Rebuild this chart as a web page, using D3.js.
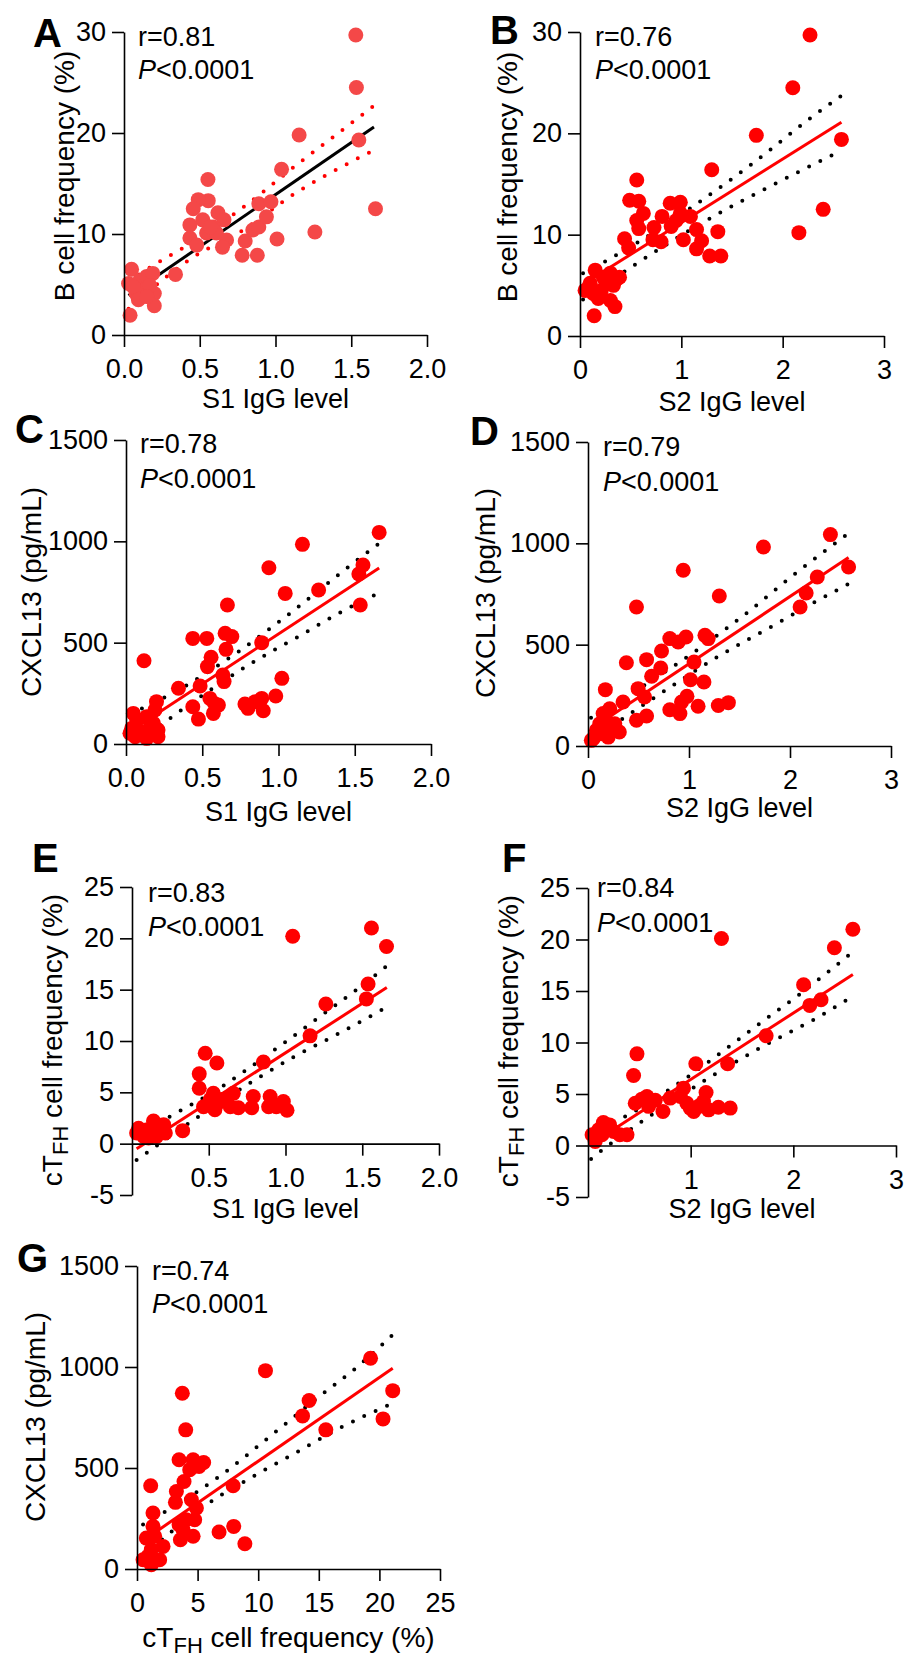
<!DOCTYPE html>
<html>
<head>
<meta charset="utf-8">
<script src="https://cdn.jsdelivr.net/npm/d3@7"></script>
<style>
  body { margin: 0; background: #fff; }
  text { font-family: "Liberation Sans", Arial, sans-serif; }
</style>
</head>
<body>
<svg id="fig" width="906" height="1657"></svg>
<script>
// ---- data ----
// each point is [x, y]
const ptsA = [[1.53,29.7],[1.534,24.5],[1.156,19.8],[1.55,19.3],[1.04,16.4],[1.66,12.5],[1.26,10.2],[1.01,9.5],
  [0.554,15.4],[0.556,13.3],[0.49,13.4],[0.457,12.5],[0.62,12.1],[0.66,11.4],[0.52,11.4],[0.59,10.7],[0.435,10.9],
  [0.545,10.1],[0.435,9.6],[0.48,8.9],[0.677,9.4],[0.65,8.7],[0.61,10.1],[0.57,10.7],
  [0.80,9.3],[0.78,7.9],[0.88,7.9],[0.85,10.4],[0.89,10.7],[0.94,11.7],[0.89,13.0],[0.97,13.2],[0.34,6.0],
  [0.05,6.5],[0.04,1.95],[0.03,5.1],[0.105,5.4],[0.15,5.8],[0.19,6.1],[0.08,4.1],[0.13,4.4],[0.2,4.1],[0.2,2.9],
  [0.06,4.8],[0.17,4.9],[0.095,3.5],[0.15,3.8]];
const ptsB = [[2.27,29.7],[2.10,24.5],[1.74,19.8],[2.58,19.4],[1.30,16.4],[2.40,12.5],[2.16,10.2],[1.36,10.3],[1.28,7.9],[1.39,7.9],
  [0.56,15.4],[0.49,13.4],[0.58,13.3],[0.625,12.1],[0.56,11.4],[0.58,10.6],[0.44,9.6],[0.48,8.7],
  [0.73,10.7],[0.72,9.5],[0.80,9.3],[0.81,11.8],[0.89,13.1],[0.99,13.2],[0.90,10.8],[0.99,12.1],[0.95,11.4],
  [1.02,9.5],[1.09,11.8],[1.15,10.5],[1.20,9.4],[1.15,8.6],
  [0.05,4.5],[0.15,6.5],[0.14,2.0],[0.23,5.8],[0.30,6.2],[0.36,5.6],[0.33,5.0],[0.21,4.5],[0.13,4.2],[0.18,3.7],
  [0.30,3.5],[0.345,2.9],[0.1,5.2],[0.26,5.2],[0.39,5.8]];
const ptsC = [[1.66,1044],[1.157,985],[0.937,870],[1.554,883],[1.527,839],[1.044,743],[1.263,760],[1.536,686],[0.665,686],
  [0.438,521],[0.53,521],[0.65,546],[0.694,530],[0.656,467],[0.89,500],[0.558,428],[0.534,382],[0.118,411],
  [0.344,275],[0.486,286],[0.635,340],[0.643,308],[1.022,324],[0.982,237],[0.89,225],[0.847,209],[0.78,197],
  [0.80,176],[0.90,164],[0.438,184],[0.475,123],[0.55,225],[0.58,200],[0.606,192],[0.573,151],
  [0.2,209],[0.19,168],[0.048,151],[0.07,118],[0.136,135],[0.037,77],[0.09,61],[0.16,86],[0.21,69],[0.21,36],
  [0.06,36],[0.136,28],[0.18,102],[0.026,53]];
const ptsD = [[2.40,1043],[1.737,982],[0.943,867],[2.58,883],[2.27,834],[1.30,740],[2.16,755],[2.10,686],[0.48,686],
  [0.81,530],[0.893,513],[0.97,538],[0.728,469],[1.158,546],[1.19,530],[0.38,411],[0.58,426],[0.72,385],[0.63,344],
  [1.05,414],[1.015,327],[1.148,316],[0.172,278],[0.496,283],[0.56,242],[0.347,217],[0.81,179],[0.91,160],
  [0.926,217],[0.98,245],[1.09,196],[1.29,200],[1.39,214],[0.58,148],[0.48,127],
  [0.15,160],[0.215,184],[0.18,127],[0.116,110],[0.265,110],[0.31,69],[0.05,36],[0.033,28],[0.13,61],[0.23,77],
  [0.2,44],[0.083,77]];
const ptsE = [[1.56,21.0],[1.047,20.2],[1.658,19.2],[1.538,15.55],[1.527,14.1],[1.263,13.6],[1.16,10.5],[0.856,7.95],
  [0.477,8.8],[0.553,7.86],[0.438,6.8],[0.438,5.4],
  [0.466,3.6],[0.51,4.3],[0.54,3.3],[0.585,4.3],[0.64,3.6],[0.66,4.9],[0.693,3.5],[0.62,4.45],[0.79,4.6],[0.78,3.5],
  [0.90,4.6],[0.89,3.6],[0.986,4.1],[0.94,3.6],[1.01,3.25],[0.53,4.9],[0.563,4.0],[0.33,1.27],
  [0.03,1.04],[0.076,0.71],[0.14,2.2],[0.206,1.85],[0.18,1.2],[0.108,0.55],[0.043,1.5],[0.16,0.7],[0.217,1.04],[0.1,1.36]];
const ptsF = [[2.58,21.0],[1.30,20.1],[2.40,19.2],[2.10,15.6],[2.16,13.6],[2.27,14.15],[1.735,10.65],[1.05,7.93],[1.36,7.93],
  [0.477,8.9],[0.444,6.8],
  [0.46,4.1],[0.525,4.5],[0.59,3.8],[0.574,4.76],[0.655,4.4],[0.73,3.3],[0.80,4.6],[0.90,4.76],[0.93,5.57],[0.963,4.1],
  [1.03,3.3],[1.077,3.8],[1.15,5.15],[1.125,4.27],[1.174,3.46],[1.27,3.72],[1.385,3.63],[0.996,3.63],
  [0.04,1.04],[0.07,0.39],[0.15,2.23],[0.21,2.0],[0.25,1.36],[0.38,1.04],[0.31,1.04],[0.136,1.04],[0.185,1.68],[0.104,1.52]];
const ptsG = [[19.27,1043],[10.6,982],[3.74,870],[21.1,883],[14.2,834],[13.66,758],[20.3,743],[15.58,689],[4.02,689],
  [3.47,541],[4.63,541],[5.5,527],[5.12,508],[4.35,491],[3.88,433],[3.25,384],[3.17,330],[7.93,412],[1.13,412],[1.32,277],
  [4.49,343],[4.9,302],[4.07,244],[3.47,219],[4.76,244],[3.58,145],[4.63,162],[7.98,211],[6.77,183],[8.9,125],
  [0.77,153],[1.32,211],[2.15,112],[1.18,96],[1.87,46],[0.5,46],[1.18,21],[0.9,63],[1.46,162],[3.8,194]];

// regression lines (end points) and 95% bands
const fitA = [[0.03,3.9],[1.65,20.6]];
const upA = [[0.03,5.3],[0.215,7.1],[0.387,8.6],[0.81,12.9],[1.127,16.7],[1.45,20.4],[1.65,22.7]];
const loA = [[0.03,2.6],[0.446,7.6],[0.787,10.4],[1.127,14.0],[1.48,17.0],[1.65,18.3]];
const fitB = [[0.03,5.1],[2.58,21.1]];
const upB = [[0.03,6.2],[0.31,7.7],[1.086,12.6],[1.70,17.0],[2.30,21.7],[2.58,23.7]];
const loB = [[0.03,3.6],[0.536,7.0],[1.316,11.8],[1.98,15.3],[2.58,18.3]];
const fitC = [[0.03,64],[1.66,869]];
const upC = [[0.03,150],[0.304,250],[0.73,452],[1.06,636],[1.46,875],[1.66,990]];
const loC = [[0.03,-20],[0.304,135],[0.81,393],[1.16,543],[1.427,658],[1.66,745]];
const fitD = [[0.03,84],[2.58,930]];
const upD = [[0.03,140],[0.437,262],[1.075,472],[1.555,650],[2.03,842],[2.58,1050]];
const loD = [[0.03,30],[0.777,278],[1.29,442],[1.82,590],[2.216,702],[2.58,800]];
const fitE = [[0.03,-0.49],[1.66,15.2]];
const upE = [[0.03,0.9],[0.29,3.0],[0.57,5.4],[0.737,7.1],[0.99,9.8],[1.235,12.5],[1.48,15.2],[1.66,17.3]];
const loE = [[0.03,-1.6],[0.126,-0.58],[0.38,2.1],[0.80,6.2],[1.06,8.5],[1.33,10.6],[1.66,13.3]];
const fitF = [[0.03,0.15],[2.58,16.6]];
const upF = [[0.03,1.3],[0.30,2.5],[0.817,5.6],[1.32,9.2],[1.68,11.9],[2.05,14.6],[2.58,18.8]];
const loF = [[0.03,-1.3],[0.162,-0.26],[0.535,2.4],[1.168,6.5],[1.69,9.55],[2.23,12.4],[2.58,14.5]];
const fitG = [[0.5,140],[21.1,994]];
const upG = [[0.5,220],[2.84,302],[6.97,466],[10.96,656],[14.95,850],[18.1,997],[21.1,1160]];
const loG = [[0.5,65],[5.73,318],[10.08,475],[13.44,587],[16.7,697],[21.1,820]];

// ticks and labels
const xTicksS1 = [0, 0.5, 1, 1.5, 2];
const xTicksS2 = [0, 1, 2, 3];
const xTicksS1E = [0.5, 1, 1.5, 2];
const xTicksS2F = [1, 2, 3];
const xTicksTfh = [0, 5, 10, 15, 20, 25];
const yTicksBcell = [0, 10, 20, 30];
const yTicksCxcl = [0, 500, 1000, 1500];
const yTicksTfh = [-5, 0, 5, 10, 15, 20, 25];
const letters = ["A", "B", "C", "D", "E", "F", "G"];
const rValues = ["0.81", "0.76", "0.78", "0.79", "0.83", "0.84", "0.74"];
const pValue = "<0.0001";
const titleS1 = [["S1 IgG level", 0]];
const titleS2 = [["S2 IgG level", 0]];
const titleBcell = [["B cell frequency (%)", 0]];
const titleCxcl = [["CXCL13 (pg/mL)", 0]];
const titleTfh = [["cT", 0], ["FH", 1], [" cell frequency (%)", 0]];

// ---- layout ----
const RED = "#ff0000", PINK = "#f44848", BLACK = "#000";
const f1 = d => d.toFixed(1), fi = d => String(d);

const panels = [
  { pts: ptsA, fit: fitA, up: upA, lo: loA, xDom: [0, 2], yDom: [0, 30], xTicks: xTicksS1, yTicks: yTicksBcell, xFmt: f1,
    left: 124, right: 427, top: 32, bottom: 335, ptCol: PINK, fitCol: BLACK, bandCol: RED,
    letter: [33, 47], stat: [138, 46, 79], xt: titleS1, xtY: 408, yt: titleBcell, ytX: 74, ytY: 176 },
  { pts: ptsB, fit: fitB, up: upB, lo: loB, xDom: [0, 3], yDom: [0, 30], xTicks: xTicksS2, yTicks: yTicksBcell, xFmt: fi,
    left: 580, right: 884, top: 32, bottom: 336, ptCol: RED, fitCol: RED, bandCol: BLACK,
    letter: [490, 44], stat: [595, 46, 79], xt: titleS2, xtY: 411, yt: titleBcell, ytX: 517, ytY: 177 },
  { pts: ptsC, fit: fitC, up: upC, lo: loC, xDom: [0, 2], yDom: [0, 1500], xTicks: xTicksS1, yTicks: yTicksCxcl, xFmt: f1,
    left: 126, right: 431, top: 440, bottom: 744, ptCol: RED, fitCol: RED, bandCol: BLACK,
    letter: [15, 443], stat: [140, 453, 488], xt: titleS1, xtY: 821, yt: titleCxcl, ytX: 41, ytY: 592 },
  { pts: ptsD, fit: fitD, up: upD, lo: loD, xDom: [0, 3], yDom: [0, 1500], xTicks: xTicksS2, yTicks: yTicksCxcl, xFmt: fi,
    left: 588, right: 891, top: 442, bottom: 746, ptCol: RED, fitCol: RED, bandCol: BLACK,
    letter: [470, 445], stat: [603, 456, 491], xt: titleS2, xtY: 817, yt: titleCxcl, ytX: 495, ytY: 593 },
  { pts: ptsE, fit: fitE, up: upE, lo: loE, xDom: [0, 2], yDom: [-5, 25], xTicks: xTicksS1E, yTicks: yTicksTfh, xFmt: f1,
    left: 132, right: 439, top: 887, bottom: 1195, ptCol: RED, fitCol: RED, bandCol: BLACK,
    letter: [32, 872], stat: [148, 902, 936], xt: titleS1, xtY: 1218, yt: titleTfh, ytX: 62, ytY: 1040 },
  { pts: ptsF, fit: fitF, up: upF, lo: loF, xDom: [0, 3], yDom: [-5, 25], xTicks: xTicksS2F, yTicks: yTicksTfh, xFmt: fi,
    left: 588, right: 896, top: 888, bottom: 1197, ptCol: RED, fitCol: RED, bandCol: BLACK,
    letter: [502, 872], stat: [597, 897, 932], xt: titleS2, xtY: 1218, yt: titleTfh, ytX: 518, ytY: 1041 },
  { pts: ptsG, fit: fitG, up: upG, lo: loG, xDom: [0, 25], yDom: [0, 1500], xTicks: xTicksTfh, yTicks: yTicksCxcl, xFmt: fi,
    left: 137, right: 440, top: 1266, bottom: 1569, ptCol: RED, fitCol: RED, bandCol: BLACK,
    letter: [17, 1272], stat: [152, 1280, 1313], xt: titleTfh, xtY: 1647, yt: titleCxcl, ytX: 45, ytY: 1417 }
];

const svg = d3.select("#fig");
const FONT = '"Liberation Sans", Arial, sans-serif';

// title text, with optional subscript parts
function addTitle(t, segs, size) {
  segs.forEach(([s, sub], i) => {
    const prevSub = i > 0 && segs[i - 1][1];
    t.append("tspan")
      .attr("font-size", sub ? 22 : size)
      .attr("dy", sub ? 6 : (prevSub ? -6 : 0))
      .text(s);
  });
}

panels.forEach((p, i) => {
  const x = d3.scaleLinear().domain(p.xDom).range([p.left, p.right]);
  const y = d3.scaleLinear().domain(p.yDom).range([p.bottom, p.top]);
  const g = svg.append("g");

  const clipId = "clip" + i;
  g.append("clipPath").attr("id", clipId).append("rect")
    .attr("x", p.left).attr("y", p.top - 10)
    .attr("width", p.right - p.left).attr("height", p.bottom - p.top + 10);

  const curve = d3.line().x(d => x(d[0])).y(d => y(d[1])).curve(d3.curveMonotoneX);
  [p.up, p.lo].forEach(b => {
    g.append("path")
      .attr("d", curve(b))
      .attr("clip-path", `url(#${clipId})`)
      .attr("fill", "none")
      .attr("stroke", p.bandCol)
      .attr("stroke-width", 4)
      .attr("stroke-linecap", "round")
      .attr("stroke-dasharray", "0 12.5");
  });

  g.append("path")
    .attr("d", d3.line().x(d => x(d[0])).y(d => y(d[1]))(p.fit))
    .attr("fill", "none")
    .attr("stroke", p.fitCol)
    .attr("stroke-width", 3);

  g.append("g").selectAll("circle")
    .data(p.pts)
    .join("circle")
    .attr("cx", d => x(d[0]))
    .attr("cy", d => y(d[1]))
    .attr("r", 7.5)
    .attr("fill", p.ptCol);

  // axes
  const yAx = g.append("g")
    .attr("transform", `translate(${p.left},0)`)
    .call(d3.axisLeft(y).tickValues(p.yTicks).tickFormat(fi).tickSize(12).tickPadding(6).tickSizeOuter(0));
  const xAx = g.append("g")
    .attr("transform", `translate(0,${y(0)})`)
    .call(d3.axisBottom(x).tickValues(p.xTicks).tickFormat(p.xFmt).tickSize(12).tickPadding(12).tickSizeOuter(0));
  [yAx, xAx].forEach(a => {
    a.attr("font-size", 27).attr("font-family", FONT);
    a.selectAll("path, line").attr("stroke", "#000").attr("stroke-width", 1.6);
    a.selectAll("text").attr("fill", "#000");
  });

  // titles
  addTitle(g.append("text")
    .attr("x", (p.left + p.right) / 2).attr("y", p.xtY)
    .attr("text-anchor", "middle"), p.xt, p.xt === titleTfh ? 28 : 27);
  addTitle(g.append("text")
    .attr("transform", `translate(${p.ytX},${p.ytY}) rotate(-90)`)
    .attr("text-anchor", "middle"), p.yt, 28);

  // panel letter
  g.append("text")
    .attr("x", p.letter[0]).attr("y", p.letter[1])
    .attr("font-size", 40).attr("font-weight", "bold")
    .text(letters[i]);

  // stats
  g.append("text")
    .attr("x", p.stat[0]).attr("y", p.stat[1])
    .attr("font-size", 27)
    .text("r=" + rValues[i]);
  const pt = g.append("text")
    .attr("x", p.stat[0]).attr("y", p.stat[2])
    .attr("font-size", 27);
  pt.append("tspan").attr("font-style", "italic").text("P");
  pt.append("tspan").text(pValue);
});
</script>
</body>
</html>
